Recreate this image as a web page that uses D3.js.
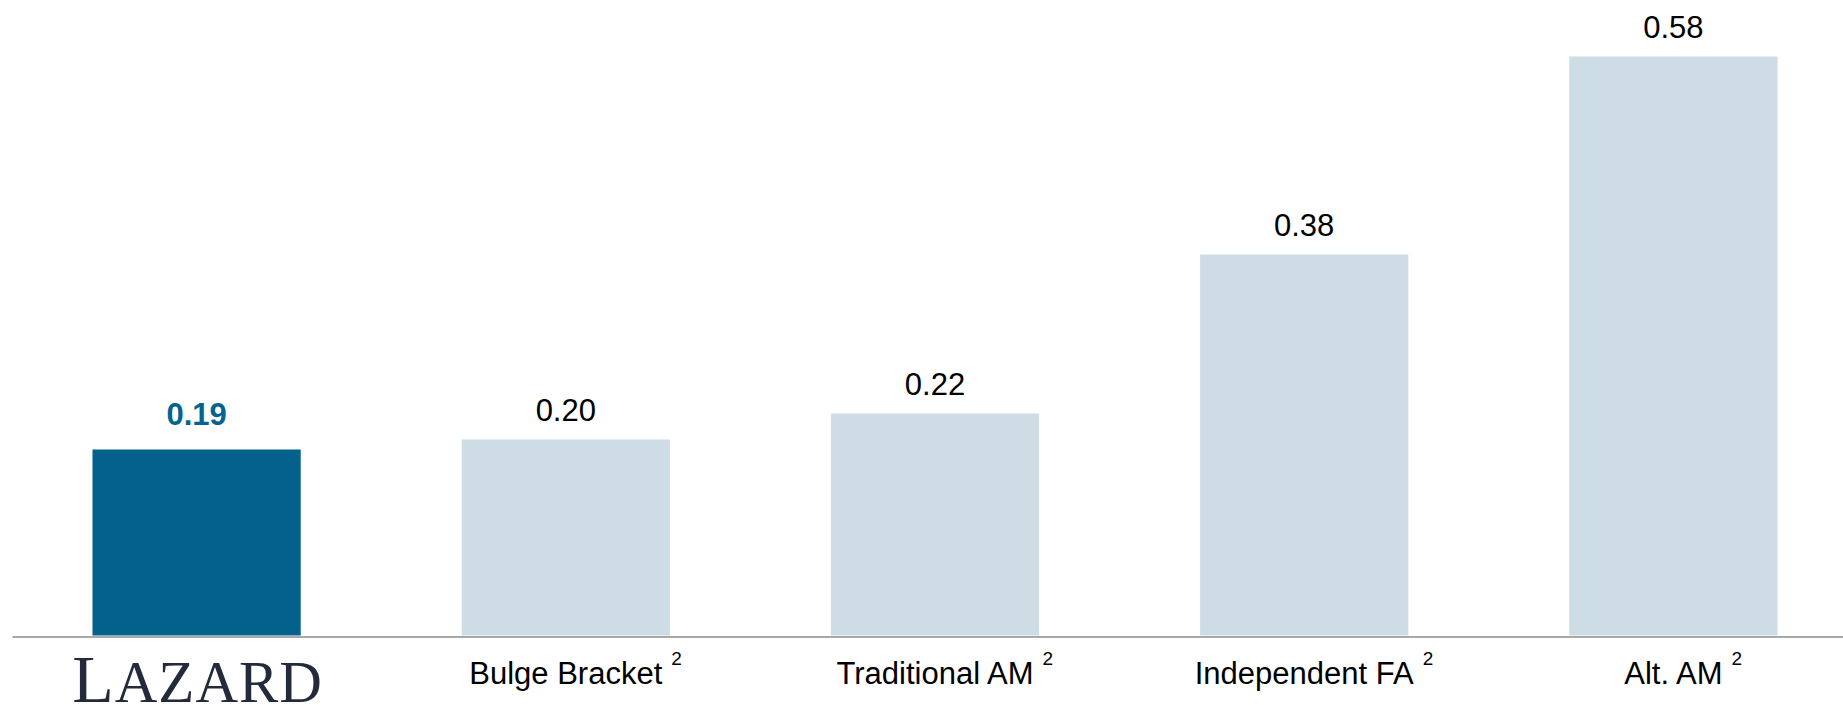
<!DOCTYPE html>
<html>
<head>
<meta charset="utf-8">
<script src="https://cdn.jsdelivr.net/npm/d3@7"></script>
<style>
html,body{margin:0;padding:0;background:#fff;}
svg{display:block;}
</style>
</head>
<body>
<svg id="chart" width="1843" height="705"></svg>
<script>
const categories = ["Lazard", "Bulge Bracket", "Traditional AM", "Independent FA", "Alt. AM"];
const values = [0.186, 0.196, 0.222, 0.381, 0.579];
const valueLabels = ["0.19", "0.20", "0.22", "0.38", "0.58"];
const footnotes = ["", "2", "2", "2", "2"];
const highlight = [true, false, false, false, false];

const svg = d3.select("#chart");
const W = 1843, H = 705;

const x = d3.scaleBand().domain(categories).range([12, 1858]).paddingInner(0.436).paddingOuter(0.218);
const y = d3.scaleLinear().domain([0, 0.6]).range([635.5, 35.5]);

// bars
svg.selectAll("rect.bar").data(categories).enter().append("rect")
  .attr("class", "bar")
  .attr("x", d => x(d))
  .attr("width", x.bandwidth())
  .attr("y", (d, i) => y(values[i]))
  .attr("height", (d, i) => y(0) - y(values[i]))
  .attr("fill", (d, i) => highlight[i] ? "#03618c" : "#cedce6");

// axis line
const axis = d3.axisBottom(x).tickSize(0).tickFormat("");
const ag = svg.append("g").attr("transform", `translate(0,${y(0) + 1})`).call(axis);
ag.select(".domain").attr("stroke", "#a8a8a8").attr("stroke-width", 2);

// value labels
svg.selectAll("text.val").data(categories).enter().append("text")
  .attr("class", "val")
  .attr("x", d => x(d) + x.bandwidth() / 2)
  .attr("y", (d, i) => y(values[i]) - (highlight[i] ? 25 : 18.5))
  .attr("text-anchor", "middle")
  .attr("font-family", "Liberation Sans, Arial, sans-serif")
  .attr("font-size", 31)
  .attr("font-weight", (d, i) => highlight[i] ? "bold" : "normal")
  .attr("fill", (d, i) => highlight[i] ? "#05648f" : "#000")
  .text((d, i) => valueLabels[i]);

// category labels
categories.forEach((c, i) => {
  const cx = x(c) + x.bandwidth() / 2;
  if (i === 0) {
    const t = svg.append("text")
      .attr("x", cx + 1)
      .attr("y", 702)
      .attr("text-anchor", "middle")
      .attr("font-family", "Liberation Serif, 'DejaVu Serif', serif")
      .attr("fill", "#232a3b")
      .attr("letter-spacing", 1);
    t.append("tspan").attr("font-size", 68).text(c.charAt(0).toUpperCase());
    t.append("tspan").attr("font-size", 59).text(c.slice(1).toUpperCase());
    return;
  }
  const t = svg.append("text")
    .attr("x", cx)
    .attr("y", 684)
    .attr("text-anchor", "middle")
    .attr("font-family", "Liberation Sans, Arial, sans-serif")
    .attr("font-size", 31)
    .attr("fill", "#000")
    .text(c);
  const len = t.node().getComputedTextLength();
  if (footnotes[i]) {
    svg.append("text")
      .attr("x", cx + len / 2 + 9)
      .attr("y", 665)
      .attr("font-family", "Liberation Sans, Arial, sans-serif")
      .attr("font-size", 19)
      .attr("fill", "#000")
      .text(footnotes[i]);
  }
});
</script>
</body>
</html>
